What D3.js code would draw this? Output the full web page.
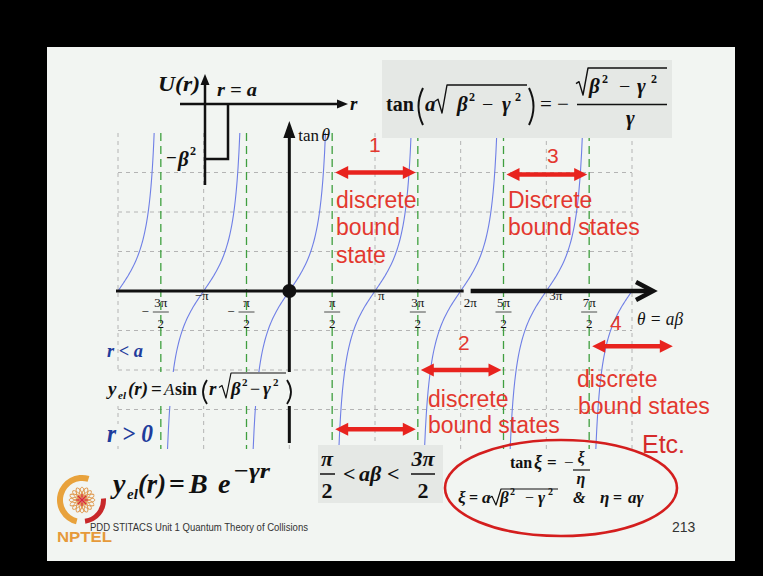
<!DOCTYPE html>
<html><head><meta charset="utf-8">
<script src="https://cdn.jsdelivr.net/npm/d3@7"></script>
<style>html,body{margin:0;padding:0;background:#000;} svg{display:block}</style>
</head><body><svg id="c" width="763" height="576"></svg>
<script>
// ---- data ----
const thetaDomainPi = [-2, 4];            // θ = aβ range, in units of π
const tanDomain = [-4, 4];                // visible range of tan θ
const gridLevels = [-3, -2, -1, 1, 2, 3]; // horizontal grid (tan θ)
const piGridMultiples = [-2, -1, 0, 1, 2, 3, 4];
const asymptoteHalfPi = [-3, -1, 1, 3, 5, 7];
const fracTickLabels = ["−3π/2", "−π/2", "π/2", "3π/2", "5π/2", "7π/2"];
const piTickMultiples = [-1, 1, 2, 3];
const piTickLabels = ["−π", "π", "2π", "3π"];
// bound-state windows: start of each window in units of π/2 (each spans π) and arrow level in tan units
const boundWindowStart = [1, 5, 3, 7, 1];
const boundArrowLevel = [3, 2.95, -2, -1.4, -3.5];

// ---- setup ----
const svg = d3.select("#c");
const SERIF = "'Liberation Serif','Times New Roman',serif";
const SANS = "'Liberation Sans',Arial,sans-serif";
const BG = "#f2f5f2";
const RED = "#e3382f";
const PI = Math.PI;

svg.append("rect").attr("width", 763).attr("height", 576).attr("fill", "#000");
svg.append("rect").attr("x", 47).attr("y", 47).attr("width", 688).attr("height", 514).attr("fill", BG);

const x = d3.scaleLinear().domain(thetaDomainPi.map(d => d * PI)).range([118, 632]);
const y = d3.scaleLinear().domain(tanDomain).range([449, 133]);

function t(g, px, py, s, o = {}) {
  const el = g.append("text").attr("x", px).attr("y", py).text(s)
    .attr("font-family", o.ff || SERIF).attr("font-size", o.fs || 18)
    .attr("font-weight", o.fw || "bold").attr("font-style", o.it === false ? "normal" : "italic")
    .attr("fill", o.fill || "#111");
  if (o.anchor) el.attr("text-anchor", o.anchor);
  if (o.len) el.attr("textLength", o.len).attr("lengthAdjust", "spacingAndGlyphs");
  return el;
}
function radical(g, x0, yb, yt, x1, w = 1.4) {
  const ym = yb - (yb - yt) * 0.42;
  g.append("path").attr("d", `M${x0},${ym} L${x0 + 3},${ym - 2} L${x0 + 7},${yb} L${x0 + 12},${yt} L${x1},${yt}`)
    .attr("fill", "none").attr("stroke", "#111").attr("stroke-width", w).attr("stroke-linejoin", "round");
}
function hbar(g, x0, x1, yy, w = 1.4) {
  g.append("line").attr("x1", x0).attr("x2", x1).attr("y1", yy).attr("y2", yy)
    .attr("stroke", "#111").attr("stroke-width", w);
}
// tall bracket drawn as a curve; dir = 1 for "(", -1 for ")"
function paren(g, xl, xr, yt, yb, dir, w = 1.6) {
  const outer = dir > 0 ? xr : xl, inner = dir > 0 ? xl - 1 : xr + 1;
  g.append("path").attr("d", `M${outer},${yt} Q${inner},${(yt + yb) / 2} ${outer},${yb}`)
    .attr("fill", "none").attr("stroke", "#111").attr("stroke-width", w);
}

// ---- grid ----
const grid = svg.append("g");
grid.selectAll("line.h").data(gridLevels).join("line").attr("class", "h")
  .attr("x1", x.range()[0]).attr("x2", x.range()[1])
  .attr("y1", d => y(d)).attr("y2", d => y(d))
  .attr("stroke", "#b4b4b4").attr("stroke-dasharray", "4,4").attr("stroke-width", 1);
grid.selectAll("line.v").data(piGridMultiples).join("line").attr("class", "v")
  .attr("x1", d => x(d * PI)).attr("x2", d => x(d * PI))
  .attr("y1", y(tanDomain[1])).attr("y2", y(tanDomain[0]))
  .attr("stroke", "#b4b4b4").attr("stroke-dasharray", "4,4").attr("stroke-width", 1);
grid.selectAll("line.a").data(asymptoteHalfPi).join("line").attr("class", "a")
  .attr("x1", d => x(d * PI / 2)).attr("x2", d => x(d * PI / 2))
  .attr("y1", y(tanDomain[1])).attr("y2", y(tanDomain[0]))
  .attr("stroke", "#3f9f3f").attr("stroke-dasharray", "8,5").attr("stroke-width", 1.3);

// ---- tan θ branches ----
const aMax = Math.atan(tanDomain[1]);
const branches = d3.range(Math.round(thetaDomainPi[0]), Math.round(thetaDomainPi[1]) + 1).map(k => {
  const lo = Math.max(k * PI - aMax, x.domain()[0]);
  const hi = Math.min(k * PI + aMax, x.domain()[1]);
  return d3.range(0, 81).map(i => lo + (hi - lo) * i / 80);
});
const tanLine = d3.line().x(v => x(v)).y(v => y(Math.tan(v)));
svg.append("g").selectAll("path").data(branches).join("path")
  .attr("d", tanLine).attr("fill", "none").attr("stroke", "#6f7fe6").attr("stroke-width", 1.1);

// ---- axes ----
const ax = svg.append("g");
const x0 = x(0), y0 = y(0);
ax.append("line").attr("x1", x.range()[0] - 2).attr("x2", x(2 * PI) + 3).attr("y1", y0).attr("y2", y0)
  .attr("stroke", "#111").attr("stroke-width", 3);
ax.append("line").attr("x1", x(2 * PI) + 10).attr("x2", x(4 * PI) + 18).attr("y1", y0).attr("y2", y0)
  .attr("stroke", "#111").attr("stroke-width", 4.5);
ax.append("path").attr("d", `M${x(4 * PI) + 4},${y0 - 9} L${x(4 * PI) + 21},${y0} L${x(4 * PI) + 4},${y0 + 9}`)
  .attr("fill", "none").attr("stroke", "#111").attr("stroke-width", 4.5);
ax.append("line").attr("x1", x0).attr("x2", x0).attr("y1", y(tanDomain[0]) - 6).attr("y2", y(tanDomain[1]) + 2)
  .attr("stroke", "#111").attr("stroke-width", 3);
ax.append("path").attr("d", `M${x0},${y(tanDomain[1]) - 12} L${x0 + 6},${y(tanDomain[1]) + 5} L${x0 - 6},${y(tanDomain[1]) + 5} Z`)
  .attr("fill", "#111");
ax.append("circle").attr("cx", x0).attr("cy", y0).attr("r", 7).attr("fill", "#111");
t(ax, x0 + 9, 141, "tan", { it: false, fw: "normal", fs: 17 });
t(ax, x0 + 32, 141, "θ", { fw: "normal", fs: 18 });

// tick labels
const tl = svg.append("g");
asymptoteHalfPi.forEach((k, i) => {
  const lab = fracTickLabels[i];
  const neg = lab.startsWith("−");
  const [num, den] = lab.replace("−", "").split("/");
  const cx = x(k * PI / 2);
  t(tl, cx, 307, num, { it: false, fw: "normal", fs: 13, anchor: "middle" });
  tl.append("line").attr("x1", cx - 8).attr("x2", cx + 8).attr("y1", 312).attr("y2", 312)
    .attr("stroke", "#222").attr("stroke-width", 0.8);
  t(tl, cx, 328, den, { it: false, fw: "normal", fs: 13, anchor: "middle" });
  if (neg) t(tl, cx - 12, 316, "−", { it: false, fw: "normal", fs: 13, anchor: "end" });
});
piTickMultiples.forEach((k, i) => {
  const lab = piTickLabels[i];
  const px = x(k * PI) + (lab.startsWith("−") ? -9 : 3);
  t(tl, px, k === 2 ? 307 : 300, lab, { it: false, fw: "normal", fs: 13 });
});
t(tl, 637, 325, "θ = aβ", { fw: "normal", fs: 19, len: 46 });

// ---- U(r) inset ----
const ins = svg.append("g");
ins.append("line").attr("x1", 180).attr("x2", 340).attr("y1", 104).attr("y2", 104).attr("stroke", "#111").attr("stroke-width", 2.5);
ins.append("path").attr("d", "M348,104 L337,99.5 L337,108.5 Z").attr("fill", "#111");
ins.append("line").attr("x1", 205).attr("x2", 205).attr("y1", 185).attr("y2", 82).attr("stroke", "#111").attr("stroke-width", 2.5);
ins.append("path").attr("d", "M205,74 L200.5,85 L209.5,85 Z").attr("fill", "#111");
ins.append("path").attr("d", "M228,104 L228,159 L205,159").attr("fill", "none").attr("stroke", "#111").attr("stroke-width", 2.5);
t(ins, 158, 91, "U(r)", { fs: 20, len: 42 });
t(ins, 217, 96, "r = a", { fs: 18, len: 40 });
t(ins, 350, 110, "r", { fs: 19 });
t(ins, 166, 164, "−", { it: false, fs: 19 });
t(ins, 178, 166, "β", { fs: 21 });
t(ins, 190, 155, "2", { it: false, fs: 12 });

// ---- top formula box ----
const fb = svg.append("g");
fb.append("rect").attr("x", 382).attr("y", 60).attr("width", 290).attr("height", 78).attr("fill", "#e5e8e5");
t(fb, 386, 111, "tan", { it: false, fs: 20 });
paren(fb, 415, 423, 88, 125, 1, 2);
t(fb, 425, 111, "a", { fs: 21 });
radical(fb, 435, 113, 85, 527);
t(fb, 457, 111, "β", { fs: 21 });
t(fb, 469, 101, "2", { it: false, fs: 12 });
t(fb, 482, 111, "−", { it: false, fw: "normal", fs: 20 });
t(fb, 502, 111, "γ", { fs: 21 });
t(fb, 515, 101, "2", { it: false, fs: 12 });
paren(fb, 529, 537, 88, 125, -1, 2);
t(fb, 540, 111, "=", { it: false, fw: "normal", fs: 21 });
t(fb, 557, 111, "−", { it: false, fw: "normal", fs: 21 });
radical(fb, 576, 95, 68, 667);
t(fb, 589, 93, "β", { fs: 21 });
t(fb, 602, 83, "2", { it: false, fs: 12 });
t(fb, 619, 93, "−", { it: false, fw: "normal", fs: 20 });
t(fb, 637, 93, "γ", { fs: 21 });
t(fb, 651, 83, "2", { it: false, fs: 12 });
hbar(fb, 577, 667, 104.5, 1.5);
t(fb, 626, 125, "γ", { fs: 21 });

// ---- left equations ----
const le = svg.append("g");
const BLUE = "#1e3c9c";
t(le, 107, 357, "r < a", { fs: 18, fill: BLUE, len: 36 });
le.append("rect").attr("x", 105).attr("y", 372).attr("width", 192).attr("height", 34).attr("fill", BG);
t(le, 108, 395, "y", { fs: 19 });
t(le, 118, 399, "el", { fs: 11 });
t(le, 128, 395, "(r)", { fs: 19 });
t(le, 151, 395, "=", { it: false, fs: 19 });
t(le, 164, 395, "A", { fs: 17, fw: "normal" });
t(le, 175, 395, "sin", { it: false, fs: 18 });
paren(le, 200, 207, 380, 404, 1, 1.8);
t(le, 209, 395, "r", { fs: 19 });
radical(le, 219, 398, 373, 286, 1.2);
t(le, 231, 395, "β", { fs: 19 });
t(le, 242, 386, "2", { it: false, fs: 11 });
t(le, 250, 395, "−", { it: false, fw: "normal", fs: 18 });
t(le, 263, 395, "γ", { fs: 19 });
t(le, 273, 386, "2", { it: false, fs: 11 });
paren(le, 287, 294, 380, 404, -1, 1.8);
le.append("rect").attr("x", 105).attr("y", 424).attr("width", 52).attr("height", 22).attr("fill", BG);
t(le, 107, 442, "r > 0", { fs: 25, fill: BLUE, len: 46 });

t(le, 113, 493, "y", { fs: 28 });
t(le, 127, 499, "el", { fs: 15 });
t(le, 138, 493, "(r)", { fs: 28, len: 28 });
t(le, 169, 493, "=", { it: false, fs: 28 });
t(le, 189, 493, "B", { fs: 28 });
t(le, 218, 493, "e", { fs: 28 });
t(le, 233, 478, "−γr", { fs: 22, len: 37 });

// ---- π/2 < aβ < 3π/2 ----
const cb = svg.append("g");
cb.append("rect").attr("x", 318).attr("y", 445).attr("width", 125).attr("height", 58).attr("fill", "#e5e8e5");
t(cb, 327, 466, "π", { fs: 22, anchor: "middle" });
hbar(cb, 320, 335, 474, 1.5);
t(cb, 327, 498, "2", { it: false, fs: 22, anchor: "middle" });
t(cb, 343, 481, "<", { it: false, fs: 22 });
t(cb, 359, 481, "aβ", { fs: 22 });
t(cb, 387, 481, "<", { it: false, fs: 22 });
t(cb, 423, 466, "3π", { fs: 22, anchor: "middle" });
hbar(cb, 411, 435, 474, 1.5);
t(cb, 423, 498, "2", { it: false, fs: 22, anchor: "middle" });

// ---- ellipse with reduced equation ----
const el = svg.append("g");
el.append("ellipse").attr("cx", 561).attr("cy", 488).attr("rx", 116).attr("ry", 48)
  .attr("fill", "none").attr("stroke", "#d41e1e").attr("stroke-width", 2.6);
t(el, 510, 468, "tan", { it: false, fs: 16 });
t(el, 534, 468, "ξ", { fs: 18 });
t(el, 547, 468, "=", { it: false, fs: 17 });
t(el, 564, 468, "−", { it: false, fw: "normal", fs: 17 });
t(el, 581, 463, "ξ", { fs: 16, anchor: "middle" });
hbar(el, 573, 590, 470, 1.2);
t(el, 581, 484, "η", { fs: 16, anchor: "middle" });
t(el, 458, 503, "ξ", { fs: 17 });
t(el, 469, 503, "=", { it: false, fs: 16 });
t(el, 482, 503, "a", { fs: 17 });
radical(el, 489, 505, 489, 558, 1.2);
t(el, 500, 503, "β", { fs: 17 });
t(el, 510, 495, "2", { it: false, fs: 10 });
t(el, 525, 503, "−", { it: false, fw: "normal", fs: 16 });
t(el, 538, 503, "γ", { fs: 17 });
t(el, 548, 495, "2", { it: false, fs: 10 });
t(el, 573, 503, "&", { fs: 16 });
t(el, 600, 503, "η", { fs: 17 });
t(el, 613, 503, "=", { it: false, fs: 16 });
t(el, 628, 503, "aγ", { fs: 17 });

// ---- bound-state arrows and labels ----
const an = svg.append("g");
function dblArrow(xa, xb, yy) {
  const h = 13, w = 6.5;
  an.append("line").attr("x1", xa + h - 2).attr("x2", xb - h + 2).attr("y1", yy).attr("y2", yy)
    .attr("stroke", "#e8231e").attr("stroke-width", 4.5);
  an.append("path").attr("d", `M${xa},${yy} L${xa + h},${yy - w} L${xa + h},${yy + w} Z`).attr("fill", "#e8231e");
  an.append("path").attr("d", `M${xb},${yy} L${xb - h},${yy - w} L${xb - h},${yy + w} Z`).attr("fill", "#e8231e");
}
boundWindowStart.forEach((k, i) => {
  dblArrow(x(k * PI / 2) + 3, x((k + 2) * PI / 2) - 2, y(boundArrowLevel[i]));
});
const rs = { ff: SANS, fw: "normal", it: false, fill: RED, fs: 23 };
t(an, 369, 152, "1", { ...rs, fs: 21 });
t(an, 336, 208, "discrete", rs);
t(an, 336, 235, "bound", rs);
t(an, 336, 263, "state", rs);
t(an, 547, 163, "3", { ...rs, fs: 21 });
t(an, 508, 208, "Discrete", rs);
t(an, 508, 235, "bound states", rs);
t(an, 458, 350, "2", { ...rs, fs: 21 });
t(an, 428, 407, "discrete", rs);
t(an, 428, 433, "bound states", rs);
t(an, 610, 330, "4", { ...rs, fs: 21 });
t(an, 577, 387, "discrete", rs);
t(an, 578, 414, "bound states", rs);
t(an, 642, 453, "Etc.", { ...rs, fs: 25, fill: "#d52a2a" });

// ---- footer ----
const ft = svg.append("g");
t(ft, 672, 532, "213", { ff: SANS, fw: "normal", it: false, fs: 14, fill: "#333" });
t(ft, 90, 531, "PDD STITACS Unit 1 Quantum Theory of Collisions", { ff: SANS, fw: "normal", it: false, fs: 10, fill: "#333", len: 218 });
// NPTEL emblem
const lg = ft.append("g").attr("transform", "translate(82,500)");
const arc = d3.arc();
lg.append("path").attr("d", arc({ innerRadius: 19, outerRadius: 25, startAngle: -2.9, endAngle: 0.3 })).attr("fill", "#e8a23c");
lg.append("path").attr("d", arc({ innerRadius: 19, outerRadius: 24, startAngle: 1.5, endAngle: 3.0 })).attr("fill", "#c8282a");
d3.range(0, 8).forEach(i => {
  lg.append("ellipse").attr("cx", 0).attr("cy", 0).attr("rx", 13).attr("ry", 3.2)
    .attr("transform", `rotate(${i * 22.5})`).attr("fill", "none").attr("stroke", "#e09a50").attr("stroke-width", 0.9);
});
d3.range(0, 8).forEach(i => {
  const a = i * PI / 4;
  lg.append("line").attr("x1", 0).attr("y1", 0).attr("x2", 6 * Math.cos(a)).attr("y2", 6 * Math.sin(a))
    .attr("stroke", "#d8283a").attr("stroke-width", 1.2);
});
t(ft, 57, 542, "NPTEL", { ff: SANS, fw: "bold", it: false, fs: 15, fill: "#e69a3a", len: 55 });
</script></body></html>
